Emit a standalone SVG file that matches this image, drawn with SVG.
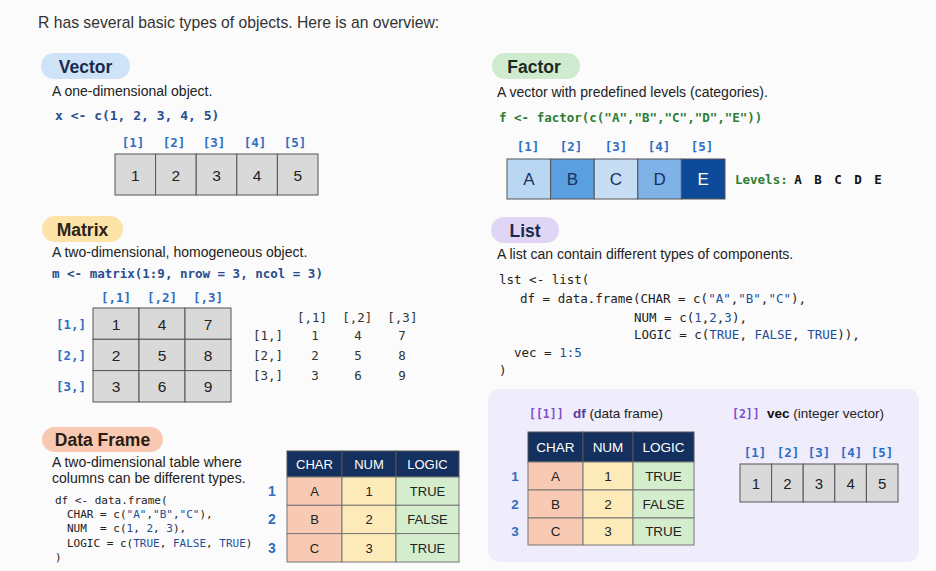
<svg xmlns="http://www.w3.org/2000/svg" width="936" height="571" viewBox="0 0 936 571">
<style>
text{font-family:"Liberation Sans",Arial,sans-serif;white-space:pre}
.hd{font-size:15.7px;fill:#333}
.ttl{font-size:17.5px;font-weight:bold;text-anchor:middle}
.desc{font-size:14px;fill:#222}
.mono,.mono text{font-family:"DejaVu Sans Mono","Liberation Mono",monospace}
.code{font-size:12.5px;fill:#222}
.blue{fill:#1f4e9a}
.idx{font-family:"DejaVu Sans Mono","Liberation Mono",monospace;font-size:12.5px;font-weight:bold;fill:#2f6ec0;text-anchor:middle}
.cell{fill:#d9d9d9;stroke:#555;stroke-width:1}
.num{font-size:15.5px;fill:#222;text-anchor:middle}
.out,.out text{font-family:"DejaVu Sans Mono","Liberation Mono",monospace;font-size:12.5px;fill:#333}
.thd{fill:#13305e;stroke:#555;stroke-width:1}
.cA{fill:#f8cab3;stroke:#777;stroke-width:1}
.cN{fill:#fdeab9;stroke:#777;stroke-width:1}
.cL{fill:#d4edcd;stroke:#777;stroke-width:1}
.th{fill:#fff;text-anchor:middle}
.td{fill:#222;text-anchor:middle}
.rl{font-weight:bold;fill:#2f6ec0;text-anchor:middle}
.fl{font-size:17px;fill:#1a3060;text-anchor:middle}
.lbl{font-family:"DejaVu Sans Mono","Liberation Mono",monospace;font-size:11.5px;font-weight:bold;fill:#7b4fc9}
</style>
<rect x="0" y="0" width="936" height="571" fill="#fbfbfb"/>

<g id="header">
<text class="hd" x="38" y="28">R has several basic types of objects. Here is an overview:</text>
</g>

<g id="vector">
<rect x="41" y="53" width="89" height="26" rx="13" fill="#cfe3f8"/>
<text class="ttl" x="85.5" y="72.5" fill="#1b2a4a">Vector</text>
<text class="desc" x="52" y="96">A one-dimensional object.</text>
<text class="mono" x="55" y="120" font-size="13px" font-weight="bold" fill="#2a4d8f">x &lt;- c(1, 2, 3, 4, 5)</text>
<text class="idx" x="133" y="147">[1]</text>
<text class="idx" x="174" y="147">[2]</text>
<text class="idx" x="214" y="147">[3]</text>
<text class="idx" x="255" y="147">[4]</text>
<text class="idx" x="295" y="147">[5]</text>
<rect class="cell" x="115" y="154" width="40.6" height="41"/>
<rect class="cell" x="155.6" y="154" width="40.6" height="41"/>
<rect class="cell" x="196.2" y="154" width="40.6" height="41"/>
<rect class="cell" x="236.8" y="154" width="40.6" height="41"/>
<rect class="cell" x="277.4" y="154" width="40.6" height="41"/>
<text class="num" x="135.3" y="181">1</text>
<text class="num" x="175.9" y="181">2</text>
<text class="num" x="216.5" y="181">3</text>
<text class="num" x="257.1" y="181">4</text>
<text class="num" x="297.7" y="181">5</text>
</g>

<g id="factor">
<rect x="492" y="53" width="88" height="26" rx="13" fill="#cfebcf"/>
<text class="ttl" x="534" y="72.5" fill="#1f2a1f">Factor</text>
<text class="desc" x="497" y="97">A vector with predefined levels (categories).</text>
<text class="mono" x="499" y="122" font-size="12.5px" font-weight="bold" fill="#2e7d32">f &lt;- factor(c("A","B","C","D","E"))</text>
<text class="idx" x="528" y="151">[1]</text>
<text class="idx" x="571" y="151">[2]</text>
<text class="idx" x="616" y="151">[3]</text>
<text class="idx" x="659" y="151">[4]</text>
<text class="idx" x="702" y="151">[5]</text>
<rect x="507" y="159" width="43.6" height="40" fill="#b9d6f2" stroke="#555"/>
<rect x="550.6" y="159" width="43.6" height="40" fill="#5a9fe0" stroke="#555"/>
<rect x="594.2" y="159" width="43.6" height="40" fill="#c6ddf4" stroke="#555"/>
<rect x="637.8" y="159" width="43.6" height="40" fill="#7fb2e6" stroke="#555"/>
<rect x="681.4" y="159" width="43.6" height="40" fill="#0d4a99" stroke="#555"/>
<text class="fl" x="528.8" y="185">A</text>
<text class="fl" x="572.4" y="185">B</text>
<text class="fl" x="616" y="185">C</text>
<text class="fl" x="659.6" y="185">D</text>
<text class="fl" x="703.2" y="185" style="fill:#ffffff">E</text>
<text class="mono" x="735" y="184" font-size="12.5px" font-weight="bold" fill="#2e7d32">Levels:</text>
<g class="mono" font-size="12.5px" font-weight="bold" fill="#111" text-anchor="middle">
<text x="798" y="184">A</text>
<text x="818" y="184">B</text>
<text x="838" y="184">C</text>
<text x="858" y="184">D</text>
<text x="878" y="184">E</text>
</g>
</g>

<g id="matrix">
<rect x="42" y="216" width="81" height="26" rx="13" fill="#fde3a7"/>
<text class="ttl" x="82.5" y="235.5" fill="#2b2218">Matrix</text>
<text class="desc" x="52" y="257">A two-dimensional, homogeneous object.</text>
<text class="mono" x="52" y="278" font-size="12.5px" font-weight="bold" fill="#2a4d8f">m &lt;- matrix(1:9, nrow = 3, ncol = 3)</text>
<text class="idx" x="116" y="302">[,1]</text>
<text class="idx" x="162" y="302">[,2]</text>
<text class="idx" x="208" y="302">[,3]</text>
<text class="idx" x="86" y="329" style="text-anchor:end">[1,]</text>
<text class="idx" x="86" y="360" style="text-anchor:end">[2,]</text>
<text class="idx" x="86" y="391" style="text-anchor:end">[3,]</text>
<rect class="cell" x="93" y="308" width="46" height="31.3"/>
<rect class="cell" x="139" y="308" width="46" height="31.3"/>
<rect class="cell" x="185" y="308" width="46" height="31.3"/>
<rect class="cell" x="93" y="339.3" width="46" height="31.3"/>
<rect class="cell" x="139" y="339.3" width="46" height="31.3"/>
<rect class="cell" x="185" y="339.3" width="46" height="31.3"/>
<rect class="cell" x="93" y="370.6" width="46" height="31.4"/>
<rect class="cell" x="139" y="370.6" width="46" height="31.4"/>
<rect class="cell" x="185" y="370.6" width="46" height="31.4"/>
<text class="num" x="116" y="329.5">1</text>
<text class="num" x="162" y="329.5">4</text>
<text class="num" x="208" y="329.5">7</text>
<text class="num" x="116" y="360.5">2</text>
<text class="num" x="162" y="360.5">5</text>
<text class="num" x="208" y="360.5">8</text>
<text class="num" x="116" y="392">3</text>
<text class="num" x="162" y="392">6</text>
<text class="num" x="208" y="392">9</text>
<text class="out" x="297" y="322">[,1]  [,2]  [,3]</text>
<text class="out" x="253" y="340">[1,]</text>
<text class="out" x="253" y="360">[2,]</text>
<text class="out" x="253" y="380">[3,]</text>
<g class="out" text-anchor="middle">
<text x="315" y="340">1</text><text x="358" y="340">4</text><text x="402" y="340">7</text>
<text x="315" y="360">2</text><text x="358" y="360">5</text><text x="402" y="360">8</text>
<text x="315" y="380">3</text><text x="358" y="380">6</text><text x="402" y="380">9</text>
</g>
</g>

<g id="list">
<rect x="491" y="217" width="68" height="26" rx="13" fill="#e1d5f6"/>
<text class="ttl" x="525" y="236.5" fill="#1b2a4a">List</text>
<text class="desc" x="497" y="259">A list can contain different types of components.</text>
<text class="mono code" x="499" y="284">lst &lt;- list(</text>
<text class="mono code" x="520" y="303">df = data.frame(CHAR = c(<tspan class="blue">"A"</tspan>,<tspan class="blue">"B"</tspan>,<tspan class="blue">"C"</tspan>),</text>
<text class="mono code" x="634" y="322">NUM = c(<tspan class="blue">1</tspan>,<tspan class="blue">2</tspan>,<tspan class="blue">3</tspan>),</text>
<text class="mono code" x="634" y="339">LOGIC = c(<tspan class="blue">TRUE</tspan>, <tspan class="blue">FALSE</tspan>, <tspan class="blue">TRUE</tspan>)),</text>
<text class="mono code" x="514" y="357">vec = <tspan class="blue">1:5</tspan></text>
<text class="mono code" x="499" y="375">)</text>
</g>

<g id="list-contents">
<rect x="488" y="389" width="431" height="173" rx="12" fill="#efecfb"/>
<text class="lbl" x="529" y="418">[[1]]</text>
<text x="573" y="418" font-size="13.5px"><tspan font-weight="bold" fill="#5b3a9e">df</tspan><tspan fill="#222"> (data frame)</tspan></text>
<text class="lbl" x="732" y="418">[2]]</text>
<text x="767" y="418" font-size="13.5px"><tspan font-weight="bold" fill="#111">vec</tspan><tspan fill="#222"> (integer vector)</tspan></text>
<rect class="thd" x="528" y="432" width="55" height="30"/>
<rect class="thd" x="583" y="432" width="50" height="30"/>
<rect class="thd" x="633" y="432" width="61" height="30"/>
<g font-size="13.5px">
<text class="th" x="555.5" y="452">CHAR</text>
<text class="th" x="608" y="452">NUM</text>
<text class="th" x="663.5" y="452">LOGIC</text>
</g>
<rect class="cA" x="528" y="462" width="55" height="28"/>
<rect class="cN" x="583" y="462" width="50" height="28"/>
<rect class="cL" x="633" y="462" width="61" height="28"/>
<rect class="cA" x="528" y="490" width="55" height="28"/>
<rect class="cN" x="583" y="490" width="50" height="28"/>
<rect class="cL" x="633" y="490" width="61" height="28"/>
<rect class="cA" x="528" y="518" width="55" height="27"/>
<rect class="cN" x="583" y="518" width="50" height="27"/>
<rect class="cL" x="633" y="518" width="61" height="27"/>
<g font-size="13.5px">
<text class="td" x="555.5" y="481">A</text><text class="td" x="608" y="481">1</text><text class="td" x="663.5" y="481">TRUE</text>
<text class="td" x="555.5" y="509">B</text><text class="td" x="608" y="509">2</text><text class="td" x="663.5" y="509">FALSE</text>
<text class="td" x="555.5" y="536">C</text><text class="td" x="608" y="536">3</text><text class="td" x="663.5" y="536">TRUE</text>
<text class="rl" x="515" y="481">1</text>
<text class="rl" x="515" y="509">2</text>
<text class="rl" x="515" y="536">3</text>
</g>
<text class="idx" x="755" y="457">[1]</text>
<text class="idx" x="788" y="457">[2]</text>
<text class="idx" x="819" y="457">[3]</text>
<text class="idx" x="851" y="457">[4]</text>
<text class="idx" x="882" y="457">[5]</text>
<rect class="cell" x="740" y="464" width="31.6" height="38"/>
<rect class="cell" x="771.6" y="464" width="31.6" height="38"/>
<rect class="cell" x="803.2" y="464" width="31.6" height="38"/>
<rect class="cell" x="834.8" y="464" width="31.6" height="38"/>
<rect class="cell" x="866.4" y="464" width="31.6" height="38"/>
<text class="num" x="755.8" y="488.5" style="font-size:15px">1</text>
<text class="num" x="787.4" y="488.5" style="font-size:15px">2</text>
<text class="num" x="819" y="488.5" style="font-size:15px">3</text>
<text class="num" x="850.6" y="488.5" style="font-size:15px">4</text>
<text class="num" x="882.2" y="488.5" style="font-size:15px">5</text>
</g>

<g id="dataframe">
<rect x="42" y="427" width="121" height="25" rx="12.5" fill="#f8c8b0"/>
<text class="ttl" x="102.5" y="446" fill="#2b1d16">Data Frame</text>
<text class="desc" x="52" y="467">A two-dimensional table where</text>
<text class="desc" x="52" y="483">columns can be different types.</text>
<g class="mono" font-size="11px" fill="#222">
<text x="55" y="504">df &lt;- data.frame(</text>
<text x="67" y="518">CHAR = c(<tspan class="blue">"A"</tspan>,<tspan class="blue">"B"</tspan>,<tspan class="blue">"C"</tspan>),</text>
<text x="67" y="532">NUM  = c(<tspan class="blue">1</tspan>, <tspan class="blue">2</tspan>, <tspan class="blue">3</tspan>),</text>
<text x="67" y="547">LOGIC = c(<tspan class="blue">TRUE</tspan>, <tspan class="blue">FALSE</tspan>, <tspan class="blue">TRUE</tspan>)</text>
<text x="55" y="561">)</text>
</g>
<rect class="thd" x="287" y="451" width="55" height="26"/>
<rect class="thd" x="342" y="451" width="54" height="26"/>
<rect class="thd" x="396" y="451" width="63" height="26"/>
<g font-size="13px">
<text class="th" x="314.5" y="469">CHAR</text>
<text class="th" x="369" y="469">NUM</text>
<text class="th" x="427.5" y="469">LOGIC</text>
</g>
<rect class="cA" x="287" y="477" width="55" height="28.3"/>
<rect class="cN" x="342" y="477" width="54" height="28.3"/>
<rect class="cL" x="396" y="477" width="63" height="28.3"/>
<rect class="cA" x="287" y="505.3" width="55" height="28.3"/>
<rect class="cN" x="342" y="505.3" width="54" height="28.3"/>
<rect class="cL" x="396" y="505.3" width="63" height="28.3"/>
<rect class="cA" x="287" y="533.6" width="55" height="28.4"/>
<rect class="cN" x="342" y="533.6" width="54" height="28.4"/>
<rect class="cL" x="396" y="533.6" width="63" height="28.4"/>
<g font-size="13px">
<text class="td" x="314.5" y="496">A</text><text class="td" x="369" y="496">1</text><text class="td" x="427.5" y="496">TRUE</text>
<text class="td" x="314.5" y="524">B</text><text class="td" x="369" y="524">2</text><text class="td" x="427.5" y="524">FALSE</text>
<text class="td" x="314.5" y="552.5">C</text><text class="td" x="369" y="552.5">3</text><text class="td" x="427.5" y="552.5">TRUE</text>
</g>
<g font-size="14px">
<text class="rl" x="272" y="496">1</text>
<text class="rl" x="272" y="524">2</text>
<text class="rl" x="272" y="552.5">3</text>
</g>
</g>
</svg>
